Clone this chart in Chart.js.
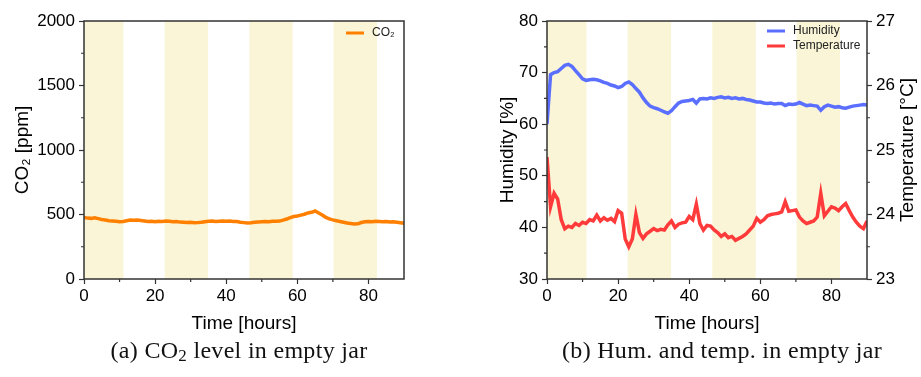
<!DOCTYPE html>
<html>
<head>
<meta charset="utf-8">
<script src="https://cdn.jsdelivr.net/npm/chart.js@4.4.1/dist/chart.umd.min.js"></script>
<style>
  html, body { margin: 0; padding: 0; background: #fff; }
  body { width: 921px; height: 377px; position: relative; overflow: hidden; }
  canvas { position: absolute; top: 0; }
  #co2Chart { left: 0; }
  #envChart { left: 460px; }
  .caption {
    position: absolute; top: 337px; transform: translateX(-50%);
    font-family: "Liberation Serif", "DejaVu Serif", serif; font-size: 24px;
    letter-spacing: 0.3px; color: #111; white-space: nowrap;
  }
  .caption sub { font-size: 17px; vertical-align: -3px; line-height: 0; }
</style>
</head>
<body>
<canvas id="co2Chart" width="460" height="340"></canvas>
<canvas id="envChart" width="461" height="340"></canvas>
<div class="caption" style="left:239px">(a) CO<sub>2</sub> level in empty jar</div>
<div class="caption" style="left:722px">(b) Hum. and temp. in empty jar</div>

<script>
// time axis, one sample per hour
const hours = [
  0, 1, 2, 3, 4, 5, 6, 7, 8, 9, 10, 11, 12, 13, 14, 15, 16, 17, 18, 19,
  20, 21, 22, 23, 24, 25, 26, 27, 28, 29, 30, 31, 32, 33, 34, 35, 36, 37, 38, 39,
  40, 41, 42, 43, 44, 45, 46, 47, 48, 49, 50, 51, 52, 53, 54, 55, 56, 57, 58, 59,
  60, 61, 62, 63, 64, 65, 66, 67, 68, 69, 70, 71, 72, 73, 74, 75, 76, 77, 78, 79,
  80, 81, 82, 83, 84, 85, 86, 87, 88, 89, 90
];

const co2 = [
  478, 472, 470, 474, 468, 462, 458, 452, 450, 447, 444, 446, 452, 457, 455, 458, 454, 450, 446, 448,
  444, 447, 446, 449, 447, 443, 445, 441, 440, 438, 440, 436, 437, 440, 444, 447, 449, 446, 448, 450,
  447, 449, 446, 445, 440, 437, 434, 436, 440, 442, 444, 446, 443, 447, 448, 449, 456, 465, 476, 484,
  488, 495, 502, 512, 517, 527, 512, 496, 478, 466, 458, 452, 446, 440, 434, 430, 426, 428, 438, 444,
  446, 444, 447, 445, 443, 446, 442, 444, 440, 436, 431
];

const humidity = [
  60.0, 69.6, 70.0, 70.2, 70.8, 71.4, 71.6, 71.2, 70.4, 69.6, 68.8, 68.5, 68.6, 68.7, 68.6, 68.4, 68.1, 67.9, 67.6, 67.4,
  67.1, 67.3, 67.9, 68.2, 67.7, 66.9, 66.2, 65.1, 64.2, 63.5, 63.2, 63.0, 62.7, 62.4, 62.1, 62.6, 63.4, 64.1, 64.4, 64.5,
  64.6, 64.8, 64.1, 64.9, 65.0, 64.9, 65.1, 65.0, 65.2, 65.3, 65.1, 65.2, 65.0, 65.1, 64.9, 65.0, 64.8, 64.7, 64.5, 64.3,
  64.3, 64.1, 64.0, 64.1, 63.9, 64.0, 64.0, 63.6, 63.9, 63.8, 63.9, 64.2, 63.9, 63.6, 63.7, 63.6, 63.5, 62.7, 63.4, 63.7,
  63.5, 63.3, 63.4, 63.2, 63.1, 63.3, 63.5, 63.6, 63.7, 63.8, 63.7
];

const temperature = [
  24.89, 24.12, 24.33, 24.24, 23.92, 23.78, 23.82, 23.80, 23.86, 23.83, 23.88, 23.86, 23.92, 23.90, 23.99, 23.90, 23.95, 23.91, 23.94, 23.89,
  24.06, 24.02, 23.62, 23.50, 23.62, 24.00, 23.72, 23.63, 23.70, 23.74, 23.78, 23.75, 23.77, 23.76, 23.84, 23.90, 23.80, 23.85, 23.87, 23.88,
  23.97, 23.92, 24.16, 23.86, 23.76, 23.83, 23.82, 23.76, 23.72, 23.66, 23.70, 23.64, 23.66, 23.60, 23.63, 23.66, 23.70, 23.76, 23.82, 23.94,
  23.88, 23.92, 23.98, 24.00, 24.01, 24.02, 24.04, 24.20, 24.05, 24.06, 24.07, 23.96, 23.90, 23.86, 23.88, 23.90, 23.96, 24.33, 23.98, 24.05,
  24.12, 24.10, 24.06, 24.12, 24.17, 24.06, 23.96, 23.88, 23.82, 23.78, 23.90
];

// shaded (light) periods, hours
const shadeStart = [0, 22.7, 46.5, 70.2];
const shadeEnd = [11.1, 34.9, 58.7, 82.4];

const FONT = "'Liberation Sans', Arial, sans-serif";
const AXIS = "#333";

const bandsPlugin = {
  id: "bands",
  beforeDatasetsDraw(chart) {
    const { ctx, chartArea: a, scales: { x } } = chart;
    ctx.save();
    ctx.fillStyle = "rgb(249, 245, 214)";
    shadeStart.forEach((s, i) => {
      const x0 = x.getPixelForValue(s);
      const x1 = x.getPixelForValue(shadeEnd[i]);
      ctx.fillRect(x0, a.top, x1 - x0, a.bottom - a.top);
    });
    ctx.restore();
  },
};

const framePlugin = {
  id: "frame",
  afterDraw(chart, args, opts) {
    const { ctx, chartArea: a } = chart;
    ctx.save();
    ctx.strokeStyle = AXIS;
    ctx.lineWidth = 1.5;
    ctx.strokeRect(a.left, a.top, a.right - a.left, a.bottom - a.top);

    // minor ticks (half way between the labelled ones)
    ctx.lineWidth = 1.2;
    (opts.minor || []).forEach((m) => {
      const sc = chart.scales[m.id];
      ctx.beginPath();
      for (let v = sc.min + m.step; v < sc.max; v += m.step * 2) {
        const p = sc.getPixelForValue(v);
        if (sc.position === "bottom") { ctx.moveTo(p, a.bottom); ctx.lineTo(p, a.bottom + 3); }
        else if (sc.position === "left") { ctx.moveTo(a.left, p); ctx.lineTo(a.left - 3, p); }
        else { ctx.moveTo(a.right, p); ctx.lineTo(a.right + 3, p); }
      }
      ctx.stroke();
    });

    // right-hand axis title, read bottom to top like the left one
    if (opts.rightTitle) {
      ctx.save();
      ctx.translate(opts.rightTitle.x, (a.top + a.bottom) / 2);
      ctx.rotate(-Math.PI / 2);
      ctx.font = `19px ${FONT}`;
      ctx.fillStyle = "#000";
      ctx.textAlign = "center";
      ctx.textBaseline = "middle";
      ctx.fillText(opts.rightTitle.text, 0, 0);
      ctx.restore();
    }

    // legend
    const lg = opts.legend;
    if (lg) {
      ctx.font = `12px ${FONT}`;
      ctx.textBaseline = "middle";
      chart.data.datasets.forEach((ds, i) => {
        const y = lg.y + i * lg.gap;
        ctx.strokeStyle = ds.borderColor;
        ctx.lineWidth = 3;
        ctx.beginPath();
        ctx.moveTo(lg.x, y);
        ctx.lineTo(lg.x + 18, y);
        ctx.stroke();
        ctx.fillStyle = "#222";
        ctx.fillText(ds.label, lg.x + 26, y);
      });
    }
    ctx.restore();
  },
};

function xAxis() {
  return {
    type: "linear",
    min: 0,
    max: 90,
    ticks: { stepSize: 20, includeBounds: false, maxRotation: 0, padding: 2, color: "#000", font: { family: FONT, size: 17 } },
    grid: { drawOnChartArea: false, tickLength: 5, tickColor: AXIS, tickWidth: 1.2 },
    border: { display: false },
    title: { display: true, text: "Time [hours]", color: "#000", font: { family: FONT, size: 19 }, padding: { top: 0, bottom: 5 } },
    afterFit(s) { s.height = 61; },
  };
}

function yAxis(opts) {
  return {
    type: "linear",
    position: opts.position,
    min: opts.min,
    max: opts.max,
    ticks: {
      stepSize: opts.step, includeBounds: true, padding: 4, color: "#000",
      font: { family: FONT, size: 17 },
      callback: (v) => String(v),
    },
    grid: { drawOnChartArea: false, tickLength: 5, tickColor: AXIS, tickWidth: 1.2 },
    border: { display: false },
    title: { display: !!opts.title, text: opts.title, color: "#000", font: { family: FONT, size: 19 }, padding: { top: opts.titlePad || 0, bottom: 0 } },
    afterFit(s) { s.width = opts.width; },
  };
}

const pts = (vals) => hours.map((h, i) => ({ x: h, y: vals[i] }));

new Chart(document.getElementById("co2Chart"), {
  type: "line",
  data: {
    datasets: [
      { label: "CO₂", data: pts(co2), borderColor: "rgb(255, 128, 0)", borderWidth: 3.5, pointRadius: 0, tension: 0 },
    ],
  },
  options: {
    responsive: false,
    animation: false,
    layout: { padding: { top: 21, right: 56, bottom: 0, left: 0 } },
    plugins: {
      legend: { display: false },
      tooltip: { enabled: false },
      frame: { legend: { x: 346, y: 33, gap: 15 }, minor: [{ id: "x", step: 10 }, { id: "y", step: 250 }] },
    },
    scales: {
      x: xAxis(),
      y: yAxis({ position: "left", min: 0, max: 2000, step: 500, title: "CO₂ [ppm]", titlePad: 11, width: 84 }),
    },
  },
  plugins: [bandsPlugin, framePlugin],
});

new Chart(document.getElementById("envChart"), {
  type: "line",
  data: {
    datasets: [
      { label: "Humidity", data: pts(humidity), yAxisID: "y", borderColor: "rgb(90, 110, 255)", borderWidth: 3.5, pointRadius: 0, tension: 0 },
      { label: "Temperature", data: pts(temperature), yAxisID: "y1", borderColor: "rgb(255, 58, 58)", borderWidth: 3.5, pointRadius: 0, tension: 0 },
    ],
  },
  options: {
    responsive: false,
    animation: false,
    layout: { padding: { top: 21, right: 0, bottom: 0, left: 0 } },
    plugins: {
      legend: { display: false },
      tooltip: { enabled: false },
      frame: {
        legend: { x: 307, y: 31, gap: 15 },
        minor: [{ id: "x", step: 10 }, { id: "y", step: 5 }, { id: "y1", step: 0.5 }],
        rightTitle: { text: "Temperature [°C]", x: 448 },
      },
    },
    scales: {
      x: xAxis(),
      y: yAxis({ position: "left", min: 30, max: 80, step: 10, title: "Humidity [%]", titlePad: 36, width: 87 }),
      y1: yAxis({ position: "right", min: 23, max: 27, step: 1, title: "", width: 54 }),
    },
  },
  plugins: [bandsPlugin, framePlugin],
});
</script>
</body>
</html>
